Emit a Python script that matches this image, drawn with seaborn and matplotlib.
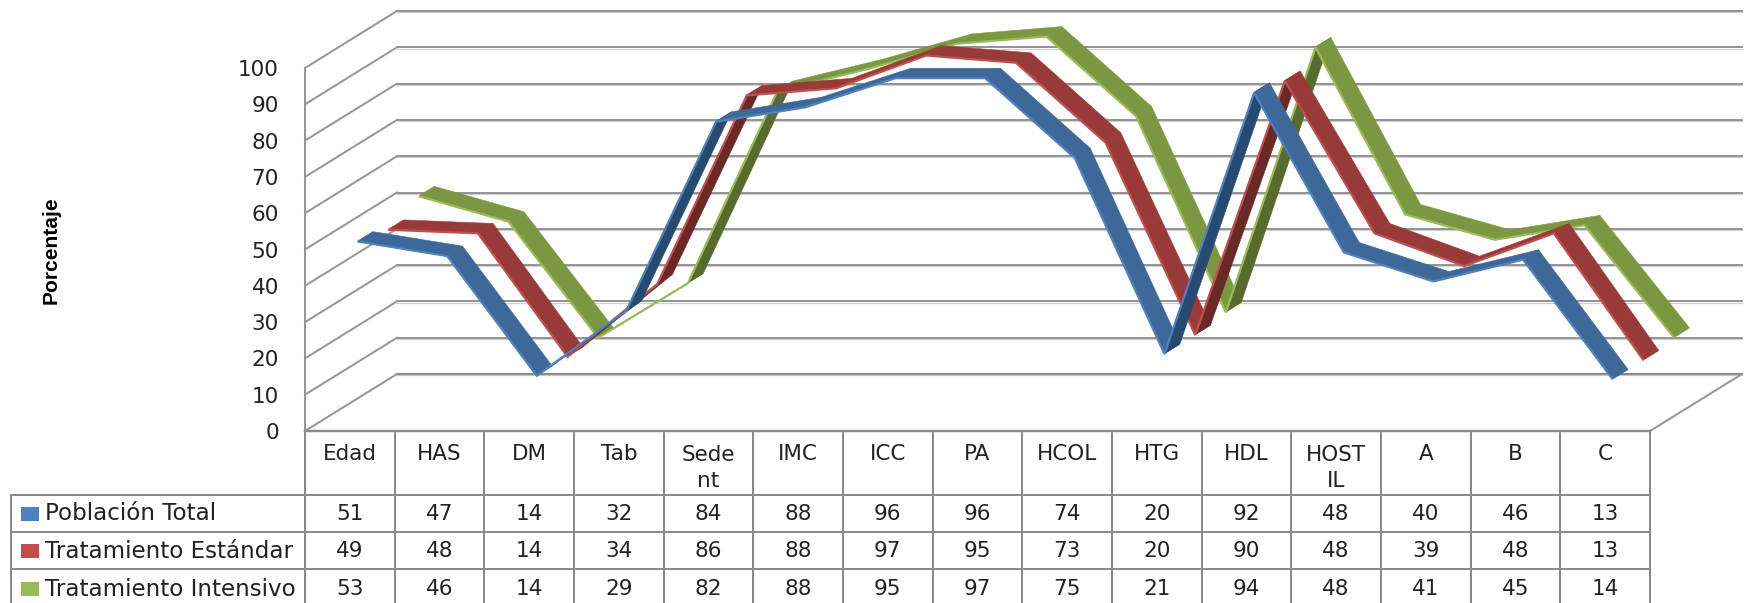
import matplotlib
matplotlib.use("Agg")
import matplotlib.pyplot as plt
import seaborn as sns

categories = ["Edad", "HAS", "DM", "Tab", "Sede\nnt", "IMC", "ICC", "PA", "HCOL", "HTG", "HDL", "HOST\nIL", "A", "B", "C"]
poblacion = [51, 47, 14, 32, 84, 88, 96, 96, 74, 20, 92, 48, 40, 46, 13]
estandar = [49, 48, 14, 34, 86, 88, 97, 95, 73, 20, 90, 48, 39, 48, 13]
intensivo = [53, 46, 14, 29, 82, 88, 95, 97, 75, 21, 94, 48, 41, 45, 14]
series_names = ["Población Total", "Tratamiento Estándar", "Tratamiento Intensivo"]
y_ticks = list(range(0, 101, 10))

W, H = 1748, 603
LEFT, RIGHT, Y0, YTOP = 305.0, 1650.0, 431.0, 11.0
PX_X = (RIGHT - LEFT) / 15
PX_Y = 3.63
DX = 92 / PX_X
DY = 57 / PX_Y
GRID = "#8A8A8A"
FONT = "DejaVu Sans"
PX = 0.72

sns.set_theme(style="white")
fig = plt.figure(figsize=(W / 100, H / 100), dpi=100, facecolor="white")
ax = fig.add_axes([LEFT / W, 1 - Y0 / H, (RIGHT - LEFT) / W, (Y0 - YTOP) / H])
ymax = (Y0 - YTOP) / PX_Y


def row_y(py):
    return (Y0 - py) / PX_Y


def col_x(px):
    return (px - LEFT) / PX_X


def gline(xs, ys, lw=1.5, z=1, color=GRID):
    ax.plot(xs, ys, color=color, lw=lw * PX, clip_on=False, zorder=z, solid_capstyle="projecting")


# walls and floor
for v in y_ticks:
    gline([DX, 15 + DX], [v + DY, v + DY], lw=2.2 if v == 0 else 1.8)
    gline([DX, 15 + DX], [v + DY - 0.35, v + DY - 0.35], lw=1.2, z=0.9, color="#D0D0D0")
    gline([0, DX], [v, v + DY], lw=2.0, color="#969696")
gline([15, 15 + DX], [0, DY], lw=2.0, color="#969696")
gline([0, 0], [0, 100], lw=2.0, color="#969696")

# ribbons
styles = [
    (poblacion, (0.083, 0.25), "#4F81BD", "#3E6897", "#294A70", 13),
    (estandar, (0.417, 0.583), "#C0504D", "#973A38", "#6A2927", 12),
    (intensivo, (0.75, 0.917), "#9BBB59", "#7C9741", "#566B2D", 11),
]
for vals, (d0, d1), light, top, under, z in styles:
    xs = [i + 0.5 + d0 * DX for i in range(len(vals))]
    fy = [v + d0 * DY for v in vals]
    bx = [i + 0.5 + d1 * DX for i in range(len(vals))]
    by = [v + d1 * DY for v in vals]
    for i in range(len(vals) - 1):
        rise = (fy[i + 1] - fy[i]) * PX_Y / ((xs[i + 1] - xs[i]) * PX_X)
        depth = (by[i] - fy[i]) * PX_Y / ((bx[i] - xs[i]) * PX_X)
        c = under if rise > depth else top
        ax.fill([xs[i], xs[i + 1], bx[i + 1], bx[i]], [fy[i], fy[i + 1], by[i + 1], by[i]],
                facecolor=c, edgecolor=c, lw=0.4, clip_on=False, zorder=z)
    sns.lineplot(x=xs, y=[v - 0.1 for v in fy], color=light, lw=2.2 * PX, estimator=None, sort=False,
                 ax=ax, legend=False, clip_on=False, zorder=z + 0.5,
                 solid_joinstyle="miter", solid_capstyle="butt")

# data table
rows = [row_y(495), row_y(532), row_y(569)]
text_rows = [row_y(514), row_y(551), row_y(589)]
bottom = row_y(H + 3)
gline([0, 15], [0, 0], lw=2.4, z=2)
for r in rows:
    gline([col_x(11), 15], [r, r], lw=2.0, z=2)
for i in range(16):
    gline([i, i], [0, bottom], lw=2.0, z=2)
gline([col_x(11), col_x(11)], [rows[0], bottom], lw=2.0, z=2)

TXT = "#222222"
CELL = 21.5
for i, c in enumerate(categories):
    ax.text(i + 0.5, row_y(454) if "\n" not in c else row_y(468), c, ha="center", va="center",
            fontsize=CELL * PX, family=FONT, color=TXT, clip_on=False, linespacing=1.4)
for vals, ty in zip((poblacion, estandar, intensivo), text_rows):
    for i, v in enumerate(vals):
        ax.text(i + 0.5, ty, str(v), ha="center", va="center", fontsize=CELL * PX, family=FONT,
                color=TXT, clip_on=False)
for name, ty, st in zip(series_names, text_rows, styles):
    ax.text(col_x(45), ty, name, ha="left", va="center", fontsize=23 * PX, family=FONT, color=TXT, clip_on=False)
    ax.fill([col_x(21), col_x(39), col_x(39), col_x(21)], [ty + 1.8, ty + 1.8, ty - 1.8, ty - 1.8],
            facecolor=st[2], edgecolor="none", clip_on=False, zorder=3)

ax.set_xlim(0, 15)
ax.set_ylim(0, ymax)
ax.set_xticks([])
ax.set_yticks(y_ticks)
ax.set_yticklabels([str(v) for v in y_ticks], family=FONT, fontsize=21.5 * PX, color=TXT)
ax.tick_params(axis="y", length=0, pad=26 * PX)
ax.set_xlabel("")
for s in ax.spines.values():
    s.set_visible(False)
ax.patch.set_alpha(0)
ax.set_ylabel("")
fig.text(51 / W, 1 - 250 / H, "Porcentaje", rotation=90, ha="center", va="center",
         fontsize=21 * PX, fontweight="bold", family="Liberation Sans", color="black")

fig.savefig("out.png", dpi=100, facecolor="white")
